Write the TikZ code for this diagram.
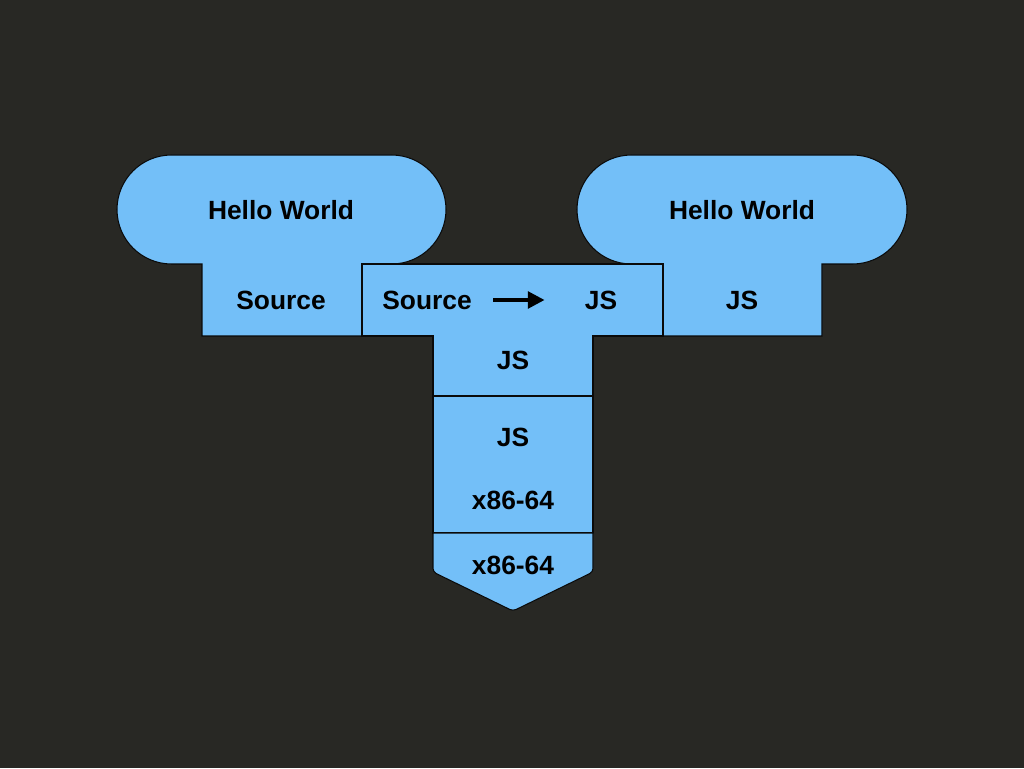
\documentclass[tikz,border=0pt]{standalone}
\usepackage{fontspec}
\setsansfont{Liberation Sans}
\usepackage{xcolor}
\usepackage{tikz}
\usetikzlibrary{arrows.meta,positioning}
\definecolor{slate}{HTML}{282824}
\definecolor{sky}{HTML}{73BFF8}
\definecolor{ink}{HTML}{0A0A0A}
\tikzset{
  tomb/.style={
    draw=ink, fill=sky, line width=0.6pt, line join=miter
  },
  tlabel/.style={
    font=\sffamily\bfseries\fontsize{15}{18}\selectfont,
    text=black, inner sep=0pt
  },
  transarrow/.style={
    -{Triangle[length=9.5pt,width=9.5pt]}, line width=2pt, color=black
  },
}

\begin{document}
\begin{tikzpicture}[x=0.02cm, y=0.02cm]
  % backdrop
  \fill[slate] (0,0) rectangle (1024,768);

  % program, source side
  \draw[tomb] (202,432) -- (202,504) -- (171.5,504)
    arc[start angle=270, end angle=90, radius=54.5] -- (391.5,613)
    arc[start angle=90, end angle=-90, radius=54.5] -- (362,504)
    -- (362,432) -- cycle;
  % program, translated side
  \draw[tomb] (663,432) -- (663,504) -- (631.5,504)
    arc[start angle=270, end angle=90, radius=54.5] -- (852.5,613)
    arc[start angle=90, end angle=-90, radius=54.5] -- (822,504)
    -- (822,432) -- cycle;
  % compiler
  \draw[tomb] (362,504) -- (663,504) -- (663,432) -- (593,432)
    -- (593,372) -- (433,372) -- (433,432) -- (362,432) -- cycle;
  % interpreter
  \draw[tomb] (433,372) rectangle (593,235);
  % machine
  \draw[tomb] (433,235) -- (593,235) [rounded corners=2pt] -- (593,196)
    -- (513,157) -- (433,196) [sharp corners] -- cycle;

  \node[tlabel] (hw1) at (281,558) {Hello World};
  \node[tlabel] (src1) at (281,468) {Source};
  \node[tlabel] (csrc) at (427,468) {Source};
  \node[tlabel] (cjs) at (601,468) {JS};
  \node[tlabel] (ctgt) at (513,408) {JS};
  \node[tlabel] (ijs) at (513,331) {JS};
  \node[tlabel] (ihost) at (513,268) {x86-64};
  \node[tlabel] (mach) at (513,203) {x86-64};
  \node[tlabel] (hw2) at (742,558) {Hello World};
  \node[tlabel] (js2) at (742,468) {JS};

  \draw[transarrow, shorten <=0.42cm, shorten >=0.8cm] (csrc) -- (cjs);
\end{tikzpicture}
\end{document}
